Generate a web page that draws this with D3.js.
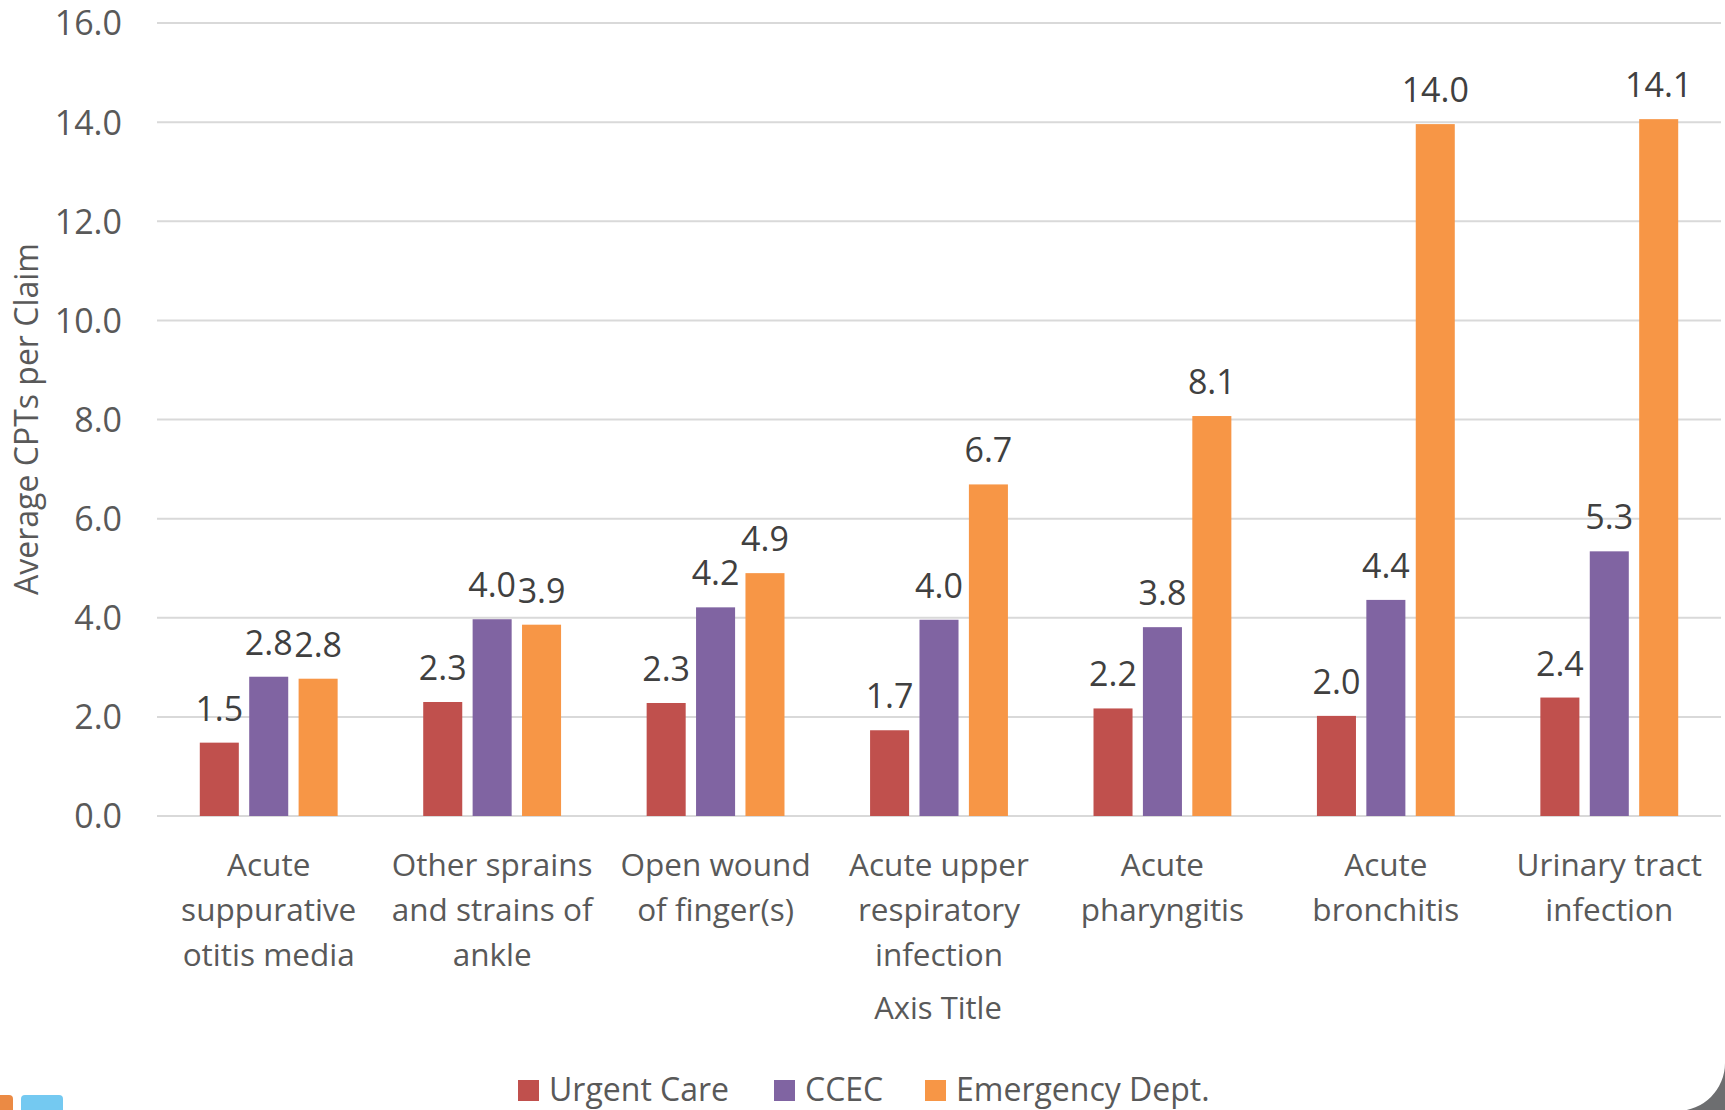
<!DOCTYPE html>
<html><head><meta charset="utf-8">
<script src="https://cdn.jsdelivr.net/npm/d3@7"></script>
<style>html,body{margin:0;padding:0;background:#fff;}svg{display:block;}</style>
</head><body>
<svg id="c" width="1725" height="1110"></svg>
<script>
const categories = [
  ["Acute", "suppurative", "otitis media"],
  ["Other sprains", "and strains of", "ankle"],
  ["Open wound", "of finger(s)"],
  ["Acute upper", "respiratory", "infection"],
  ["Acute", "pharyngitis"],
  ["Acute", "bronchitis"],
  ["Urinary tract", "infection"]
];
const seriesNames = ["Urgent Care", "CCEC", "Emergency Dept."];
const urgentCare = [1.48, 2.30, 2.28, 1.73, 2.17, 2.02, 2.39];
const ccec = [2.81, 3.97, 4.21, 3.96, 3.81, 4.36, 5.34];
const emergencyDept = [2.77, 3.86, 4.90, 6.69, 8.07, 13.96, 14.06];
const yTicks = [0, 2, 4, 6, 8, 10, 12, 14, 16];
const colors = ["#c0504d", "#8064a2", "#f79646"];
const yTitle = "Average CPTs per Claim";
const xTitle = "Axis Title";

(function () {
const series = [urgentCare, ccec, emergencyDept];
const svg = d3.select("#c");
const font = "'Open Sans', sans-serif";
const pLeft = 157, pRight = 1721, pTop = 23, pBottom = 816;

const catIdx = categories.map((d, i) => i);
const x0 = d3.scaleBand().domain(catIdx).range([pLeft, pRight]).padding(0);
const x1 = d3.scaleBand().domain([0, 1, 2]).range([0, x0.bandwidth()]).paddingInner(0.21).paddingOuter(0.866);
const y = d3.scaleLinear().domain([0, 16]).range([pBottom, pTop]);

// gridlines
svg.append("g").selectAll("line").data(yTicks).join("line")
  .attr("x1", pLeft).attr("x2", pRight)
  .attr("y1", d => y(d)).attr("y2", d => y(d))
  .attr("stroke", "#d9d9d9").attr("stroke-width", 2);

// y axis labels
const yAxis = d3.axisLeft(y).tickValues(yTicks).tickFormat(d3.format(".1f")).tickSize(0).tickPadding(0);
const gy = svg.append("g").attr("transform", `translate(${pLeft - 35},0)`).call(yAxis);
gy.select(".domain").remove();
gy.selectAll("text").attr("font-family", font).attr("font-size", 34).attr("fill", "#595959").attr("dy", "0.35em");

// bars
const groups = svg.append("g").selectAll("g").data(catIdx).join("g")
  .attr("transform", i => `translate(${x0(i)},0)`);
groups.selectAll("rect").data(i => series.map((s, k) => ({k, v: s[i]}))).join("rect")
  .attr("x", d => x1(d.k)).attr("width", x1.bandwidth())
  .attr("y", d => y(d.v)).attr("height", d => y(0) - y(d.v))
  .attr("fill", d => colors[d.k]);
groups.selectAll("text.lbl").data(i => series.map((s, k) => ({k, v: s[i]}))).join("text")
  .attr("class", "lbl")
  .attr("x", d => x1(d.k) + x1.bandwidth() / 2)
  .attr("y", d => y(d.v) - 22)
  .attr("text-anchor", "middle")
  .attr("font-family", font).attr("font-size", 34).attr("fill", "#404040")
  .text(d => d3.format(".1f")(d.v));

// x axis category labels
const xAxis = d3.axisBottom(x0).tickSize(0).tickFormat(() => "");
const gx = svg.append("g").attr("transform", `translate(0,${pBottom})`).call(xAxis);
gx.select(".domain").remove();
gx.selectAll(".tick").each(function(i) {
  const t = d3.select(this).append("text")
    .attr("text-anchor", "middle").attr("font-family", font).attr("font-size", 31.5).attr("fill", "#595959");
  categories[i].forEach((line, j) => {
    t.append("tspan").attr("x", 0).attr("y", 60 + j * 45).text(line);
  });
});

// axis titles
svg.append("text").attr("transform", `translate(38,${419}) rotate(-90)`)
  .attr("text-anchor", "middle").attr("font-family", font).attr("font-size", 32).attr("fill", "#595959")
  .text(yTitle);
svg.append("text").attr("x", 938).attr("y", 1019)
  .attr("text-anchor", "middle").attr("font-family", font).attr("font-size", 31).attr("fill", "#595959")
  .text(xTitle);

// legend
const legendX = [518, 774, 925];
const lg = svg.append("g").selectAll("g").data(seriesNames).join("g")
  .attr("transform", (d, i) => `translate(${legendX[i]},1080)`);
lg.append("rect").attr("width", 21).attr("height", 21).attr("fill", (d, i) => colors[i]);
lg.append("text").attr("x", 31).attr("y", 21)
  .attr("font-family", font).attr("font-size", 32).attr("fill", "#595959")
  .text(d => d);

// decorations
svg.append("rect").attr("x", -6).attr("y", 1095).attr("width", 19).attr("height", 24).attr("rx", 4).attr("fill", "#eb8a44");
svg.append("rect").attr("x", 21).attr("y", 1095).attr("width", 42).attr("height", 24).attr("rx", 4).attr("fill", "#74c9f1");
svg.append("path").attr("d", "M1725,1063 A48,48 0 0 1 1677,1111 L1725,1111 Z").attr("fill", "#6d6e70");
})();
</script>
</body></html>
